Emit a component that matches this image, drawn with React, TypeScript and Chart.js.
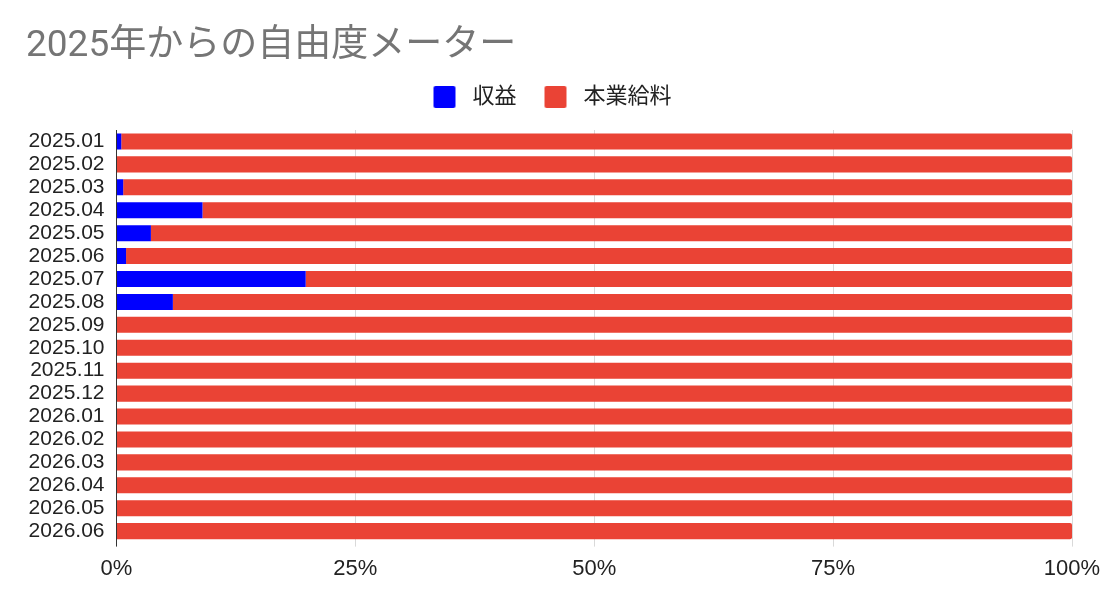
import React, { useEffect, useRef } from "react";
import { Chart, registerables } from "chart.js";

Chart.register(...registerables);

const categories = [
  "2025.01", "2025.02", "2025.03", "2025.04", "2025.05", "2025.06",
  "2025.07", "2025.08", "2025.09", "2025.10", "2025.11", "2025.12",
  "2026.01", "2026.02", "2026.03", "2026.04", "2026.05", "2026.06",
];
const incomeValues = [0.5, 0, 0.7, 9.0, 3.6, 1.0, 19.8, 5.9, 0, 0, 0, 0, 0, 0, 0, 0, 0, 0];
const salaryValues = [99.5, 100, 99.3, 91.0, 96.4, 99.0, 80.2, 94.1, 100, 100, 100, 100, 100, 100, 100, 100, 100, 100];
const xTicks = [0, 25, 50, 75, 100];
const seriesNames = ["収益", "本業給料"];
const seriesColors = ["#0000ff", "#ea4335"];

const FONT = "'Liberation Sans', Arial, 'Noto Sans CJK JP', sans-serif";

function legendSwatch(color: string): HTMLCanvasElement {
  const c = document.createElement("canvas");
  c.width = 35;
  c.height = 22;
  const g = c.getContext("2d")!;
  g.fillStyle = color;
  const x0 = 7, s = 22, r = 2;
  g.beginPath();
  g.moveTo(x0 + r, 0);
  g.lineTo(x0 + s - r, 0);
  g.quadraticCurveTo(x0 + s, 0, x0 + s, r);
  g.lineTo(x0 + s, s - r);
  g.quadraticCurveTo(x0 + s, s, x0 + s - r, s);
  g.lineTo(x0 + r, s);
  g.quadraticCurveTo(x0, s, x0, s - r);
  g.lineTo(x0, r);
  g.quadraticCurveTo(x0, 0, x0 + r, 0);
  g.fill();
  return c;
}

const legendMargin = {
  id: "legendMargin",
  beforeInit(chart: any) {
    const legend = chart.legend;
    if (!legend) return;
    const orig = legend.fit;
    legend.fit = function () {
      orig.call(this);
      this.height += 12;
    };
  },
};

export default function App() {
  const ref = useRef<HTMLCanvasElement | null>(null);
  useEffect(() => {
    document.body.style.margin = "0";
    const ctx = ref.current!;
    const swatches = seriesColors.map(legendSwatch);
    const chart = new Chart(ctx, {
      type: "bar",
      data: {
        labels: categories,
        datasets: [
          { label: seriesNames[0], data: incomeValues, backgroundColor: seriesColors[0], borderRadius: 1, barPercentage: 0.7, categoryPercentage: 1 },
          { label: seriesNames[1], data: salaryValues, backgroundColor: seriesColors[1], borderRadius: 2, barPercentage: 0.7, categoryPercentage: 1 },
        ],
      },
      plugins: [legendMargin],
      options: {
        indexAxis: "y",
        animation: false,
        responsive: false,
        layout: { padding: { left: 26, right: 28, top: 4, bottom: 16 } },
        plugins: {
          title: {
            display: true,
            text: "2025年からの自由度メーター",
            align: "start",
            color: "#757575",
            font: { family: "Roboto, 'Noto Sans CJK JP', sans-serif", size: 37, weight: "normal", lineHeight: 1 },
            padding: { top: 24, bottom: 0 },
          },
          legend: {
            display: true,
            labels: {
              color: "#222",
              font: { family: FONT, size: 22 },
              usePointStyle: true,
              pointStyleWidth: 35,
              boxHeight: 22,
              padding: 21,
              generateLabels: () =>
                seriesNames.map((name, i) => ({
                  text: name,
                  fillStyle: seriesColors[i],
                  strokeStyle: seriesColors[i],
                  lineWidth: 0,
                  pointStyle: swatches[i],
                  hidden: false,
                  datasetIndex: i,
                  fontColor: "#222",
                })),
            },
          },
          tooltip: { enabled: false },
        },
        scales: {
          x: {
            stacked: true,
            min: 0,
            max: 100,
            afterBuildTicks: (axis: any) => {
              axis.ticks = xTicks.map((v) => ({ value: v }));
            },
            afterFit: (scale: any) => {
              scale.paddingRight = 0;
              scale.paddingLeft = 0;
            },
            ticks: {
              color: "#222",
              font: { family: FONT, size: 22 },
              padding: 9,
              callback: (v: any) => v + "%",
            },
            grid: {
              color: (c: any) => (c.tick && c.tick.value === 0 ? "#333" : "#d9d9d9"),
              drawTicks: true,
              tickLength: 4,
            },
            border: { display: false },
          },
          y: {
            stacked: true,
            afterFit: (scale: any) => {
              scale.width = 90.5;
            },
            ticks: { color: "#222", font: { family: FONT, size: 21 }, padding: 12, autoSkip: false },
            grid: { display: false, drawTicks: false },
            border: { display: true, color: "#333", width: 1 },
          },
        },
      },
    });
    return () => chart.destroy();
  }, []);
  return <canvas ref={ref} width={1100} height={607} style={{ display: "block" }} />;
}
